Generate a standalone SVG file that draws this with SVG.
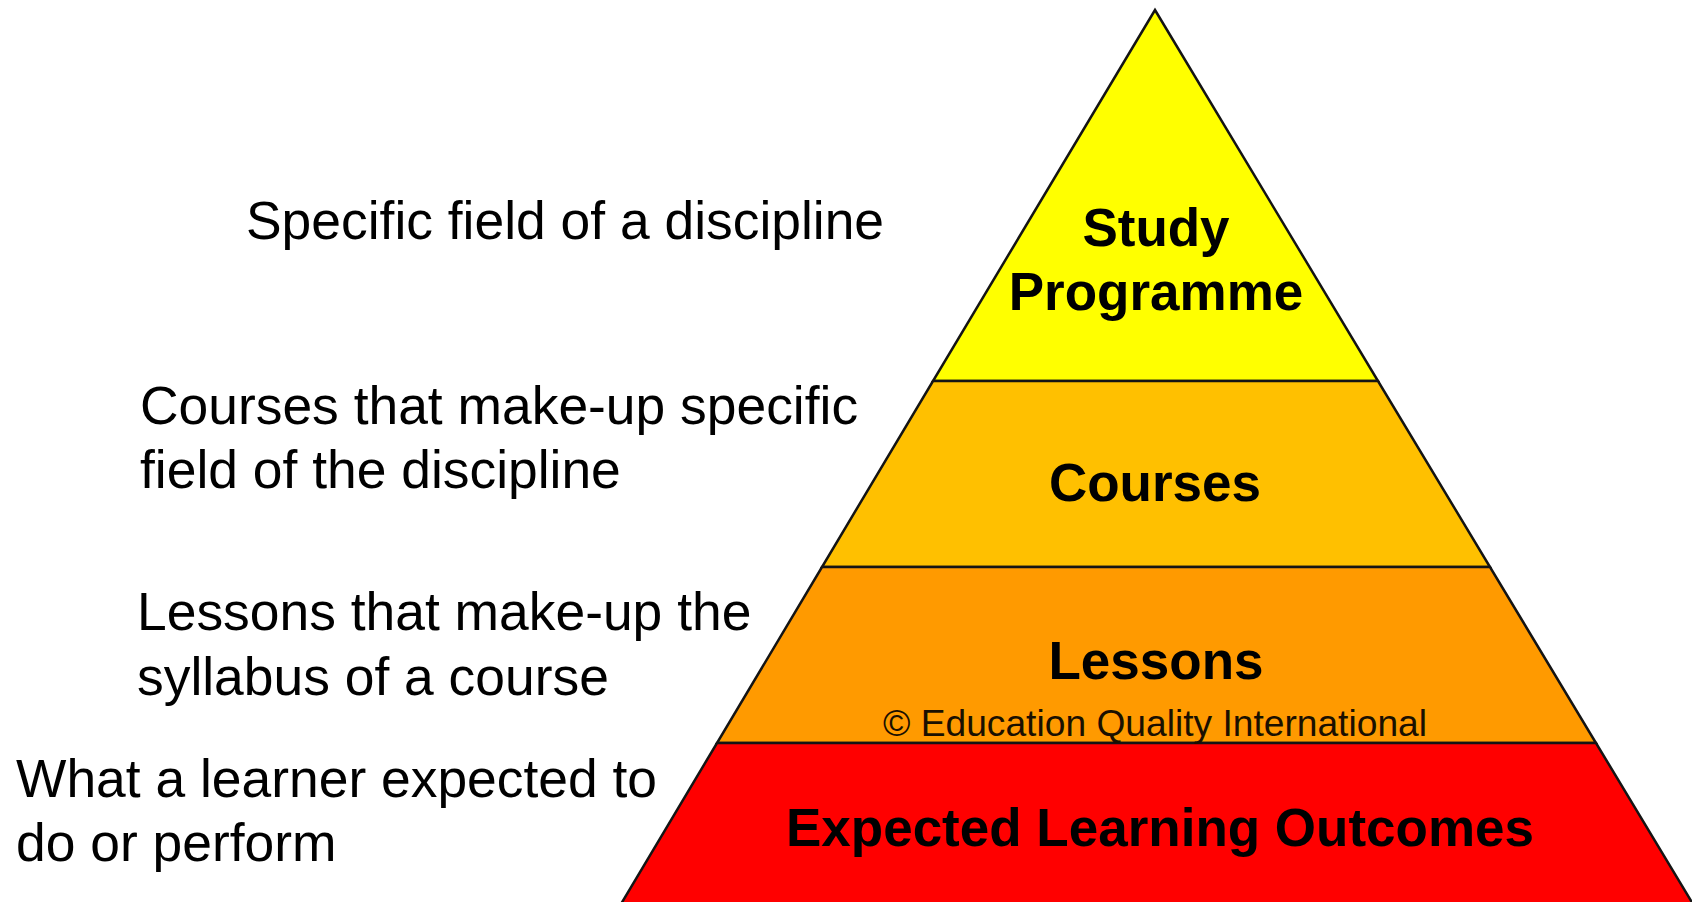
<svg xmlns="http://www.w3.org/2000/svg" width="1692" height="902" viewBox="0 0 1692 902">
<style>
.tier{stroke:#141414;stroke-width:2.5;stroke-linejoin:miter}
.lbl{font-family:"Liberation Sans",Arial,sans-serif;font-weight:bold;font-size:53px;fill:#000;text-anchor:middle}
.desc{font-family:"Liberation Sans",Arial,sans-serif;font-size:53.4px;fill:#000}
.copy{font-family:"Liberation Sans",Arial,sans-serif;font-size:36px;fill:#1a1000}
</style>
<rect width="1692" height="902" fill="#fff"/>
<g id="tier-study">
<polygon class="tier" fill="#FFFF00" points="1155,10 1378,381 933,381"/>
<text class="lbl" x="1156" y="246">Study</text>
<text class="lbl" x="1156" y="310">Programme</text>
</g>
<g id="tier-courses">
<polygon class="tier" fill="#FFC000" points="933,381 1378,381 1490,567 822,567"/>
<text class="lbl" x="1155" y="501">Courses</text>
</g>
<g id="tier-lessons">
<polygon class="tier" fill="#FF9A00" points="822,567 1490,567 1596,743 717,743"/>
<text class="lbl" x="1156" y="679">Lessons</text>
</g>
<g id="tier-outcomes">
<polygon class="tier" fill="#FF0000" points="717,743 1596,743 1693,904 621,904"/>
<text class="lbl" x="1160" y="846">Expected Learning Outcomes</text>
</g>
<g id="copyright">
<text class="copy" x="883" y="736" textLength="544" lengthAdjust="spacingAndGlyphs">© Education Quality International</text>
</g>
<g id="desc-study"><text class="desc" x="246" y="239">Specific field of a discipline</text></g>
<g id="desc-courses"><text class="desc" x="140" y="424">Courses that make-up specific</text><text class="desc" x="140" y="488">field of the discipline</text></g>
<g id="desc-lessons"><text class="desc" x="137" y="630">Lessons that make-up the</text><text class="desc" x="137" y="695">syllabus of a course</text></g>
<g id="desc-outcomes"><text class="desc" x="16" y="797">What a learner expected to</text><text class="desc" x="16" y="861">do or perform</text></g>
<g id="connectors"/>
</svg>
